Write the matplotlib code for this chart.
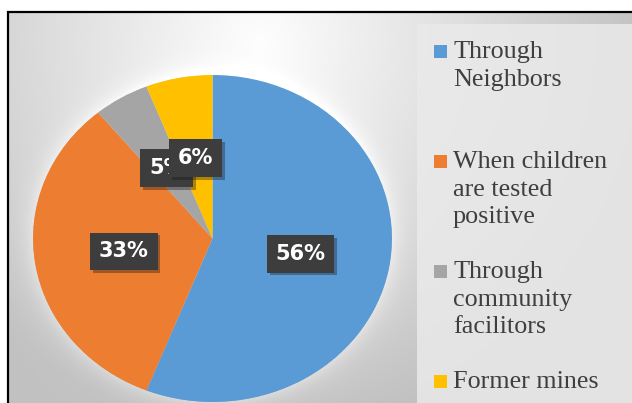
import numpy as np
import matplotlib
matplotlib.use("Agg")
import matplotlib.pyplot as plt
import matplotlib.patheffects as pe
from matplotlib.patches import Rectangle

# Data
labels = ["Through\nNeighbors", "When children\nare tested\npositive",
          "Through\ncommunity\nfacilitors", "Former mines"]
shares = [56, 33, 5, 6]
colors = ["#5B9BD5", "#ED7D31", "#A5A5A5", "#FFC000"]

W, H = 632, 403
fig = plt.figure(figsize=(W / 100, H / 100), dpi=100)

# Background: soft radial gradient with a glow around the pie
bg = fig.add_axes([0, 0, 1, 1])
bg.set_xlim(0, W)
bg.set_ylim(H, 0)
bg.axis("off")
X, Y = np.meshgrid(np.arange(W) + 0.5, np.arange(H) + 0.5)
d = np.sqrt(((X - 260) / 330) ** 2 + ((Y - 40) / 330) ** 2)
val = np.clip(0.995 - 0.2 * d, 0.76, 1.0)
cx, cy, rx, ry = 212.5, 238.5, 179.5, 163.5
r = np.sqrt(((X - cx) / rx) ** 2 + ((Y - cy) / ry) ** 2)
glow = np.where(r > 1, np.exp(-(r - 1) / 0.06), 0) * 0.08
val = np.clip(val + glow, 0, 1)
bg.imshow(np.dstack([val] * 3), extent=(0, W, H, 0), interpolation="bilinear")

# legend panel
bg.add_patch(Rectangle((417, 24), W - 417, H - 24, color="#eaeaea", lw=0, alpha=0.85))

# white margin and black frame lines
bg.add_patch(Rectangle((0, 0), W, 11, color="white", lw=0))
bg.add_patch(Rectangle((0, 0), 7, H, color="white", lw=0))
bg.plot([7, W], [11.5, 11.5], color="black", lw=1.6, solid_capstyle="butt")
bg.plot([7.5, 7.5], [11, H], color="black", lw=1.6, solid_capstyle="butt")

# Pie (slightly wider than tall)
ax = fig.add_axes([(cx - rx) / W, (H - cy - ry) / H, 2 * rx / W, 2 * ry / H])
wedges, texts, autotexts = ax.pie(
    shares, colors=colors, startangle=90, counterclock=False,
    autopct="%.0f%%", pctdistance=0.5,
    wedgeprops=dict(linewidth=0),
    textprops=dict(color="white", fontsize=15, fontweight="bold"))
ax.set_aspect("auto")
ax.set_xlim(-1, 1)
ax.set_ylim(-1, 1)
ax.axis("off")

for t in autotexts:
    t.set_bbox(dict(boxstyle="square,pad=0.42", facecolor="#3d3d3d", edgecolor="none"))
    t.get_bbox_patch().set_path_effects(
        [pe.SimplePatchShadow(offset=(2, -2), alpha=0.35), pe.Normal()])

# Legend drawn by hand: entries evenly spaced
for i, (lab, c) in enumerate(zip(labels, colors)):
    top = 43 + 110 * i
    bg.add_patch(Rectangle((434, top + 2), 13, 13, color=c, lw=0))
    bg.text(453, top - 2, lab, ha="left", va="top", fontsize=18.8,
            family="Liberation Serif", color="#3f3f3f", linespacing=1.33)

fig.savefig("out.png", dpi=100)
